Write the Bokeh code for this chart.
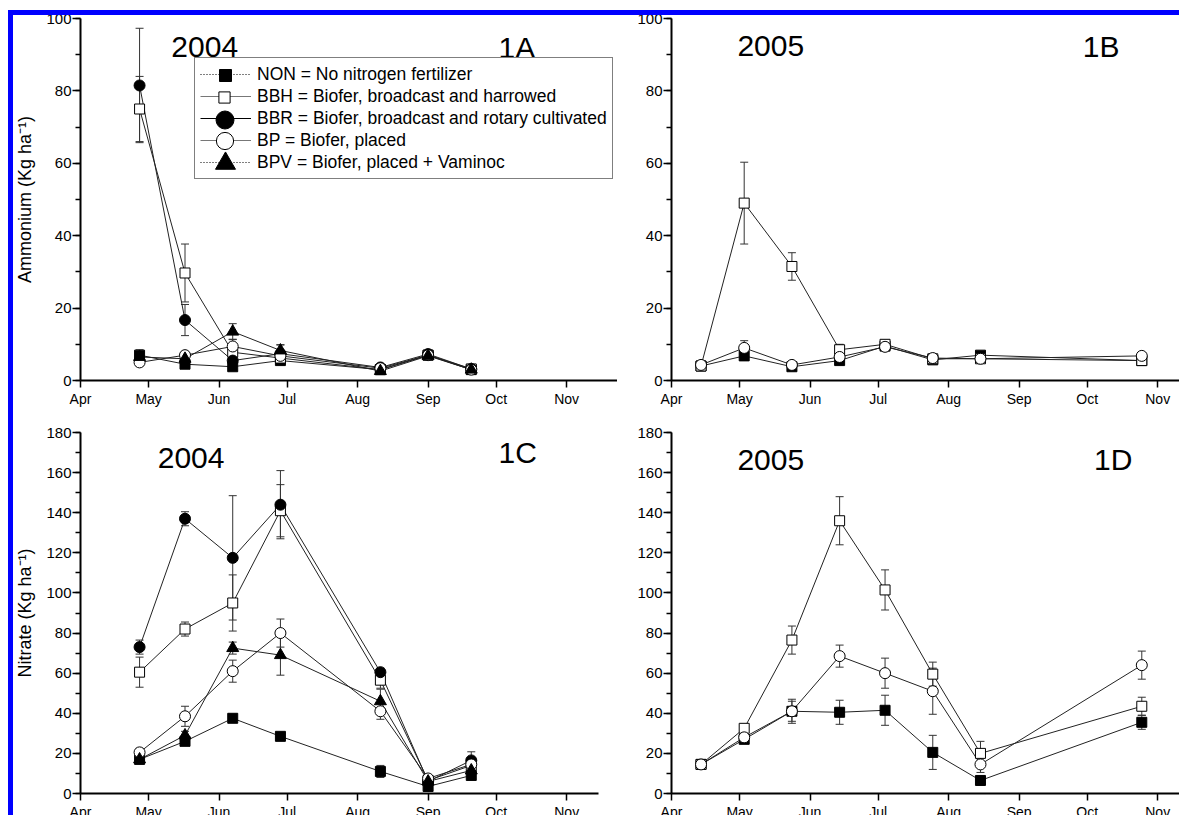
import pandas as pd
from datetime import datetime
from bokeh.plotting import figure
from bokeh.models import (Range1d, ColumnDataSource, Whisker, TeeHead, Legend, LegendItem,
                          Label, MonthsTicker, DatetimeTickFormatter, SingleIntervalTicker,
                          Span, GlobalInlineStyleSheet)
from bokeh.layouts import row, column
from bokeh.embed import file_html
from bokeh.resources import INLINE

FONT = "Liberation Sans"

# ---------------- data ----------------
dates_2004 = ["2004-04-27", "2004-05-17", "2004-06-07", "2004-06-28",
              "2004-08-11", "2004-09-01", "2004-09-20"]
dates_2005 = ["2005-04-14", "2005-05-03", "2005-05-24", "2005-06-14",
              "2005-07-04", "2005-07-25", "2005-08-15", "2005-10-25"]

legend_labels = {
    "NON": "NON = No nitrogen fertilizer",
    "BBH": "BBH = Biofer, broadcast and harrowed",
    "BBR": "BBR = Biofer, broadcast and rotary cultivated",
    "BP": "BP = Biofer, placed",
    "BPV": "BPV = Biofer, placed + Vaminoc",
}

# 1A  Ammonium 2004
ammonium_2004 = {
    "NON": [7.0, 4.5, 3.8, 5.5, 3.0, 7.0, 3.0],
    "BBH": [75.0, 29.7, 7.8, 6.2, 3.0, 7.0, 3.2],
    "BBR": [81.5, 16.7, 5.5, 7.4, 3.6, 7.3, 3.2],
    "BP": [5.0, 7.0, 9.4, 6.8, 3.4, 7.0, 3.0],
    "BPV": [6.5, 6.0, 13.5, 8.3, 2.6, 6.8, 3.0],
}
ammonium_2004_err = {
    "NON": [1.5, 1.0, 1.0, 1.0, 0.5, 0.5, 0.5],
    "BBH": [9.0, 8.0, 1.5, 1.0, 0.5, 0.5, 0.5],
    "BBR": [15.8, 4.3, 1.5, 2.5, 0.5, 0.5, 0.5],
    "BP": [1.0, 1.0, 2.0, 1.0, 0.5, 0.5, 0.5],
    "BPV": [1.0, 1.0, 2.2, 1.5, 0.8, 0.5, 0.8],
}

# 1B  Ammonium 2005
ammonium_2005 = {
    "NON": [4.0, 6.8, 3.8, 5.5, 9.5, 5.7, 7.0, 5.5],
    "BBH": [4.0, 49.0, 31.5, 8.5, 10.0, 6.0, 6.0, 5.5],
    "BP": [4.3, 9.0, 4.3, 6.5, 9.3, 6.2, 6.0, 6.8],
}
ammonium_2005_err = {
    "NON": [0.5, 1.0, 0.5, 0.8, 1.0, 0.5, 0.8, 0.5],
    "BBH": [0.5, 11.3, 3.8, 1.5, 1.2, 0.8, 0.8, 0.5],
    "BP": [0.5, 2.0, 0.8, 1.0, 1.0, 0.8, 0.8, 0.8],
}

# 1C  Nitrate 2004
nitrate_2004 = {
    "NON": [17.0, 26.0, 37.5, 28.5, 11.0, 3.5, 9.0],
    "BBH": [60.5, 82.0, 95.0, 141.0, 56.5, 6.5, 14.0],
    "BBR": [73.0, 137.0, 117.5, 144.0, 60.5, 6.0, 16.5],
    "BP": [20.5, 38.5, 61.0, 80.0, 41.0, 7.5, 14.5],
    "BPV": [17.0, 29.0, 72.5, 69.0, 46.0, 6.0, 11.5],
}
nitrate_2004_err = {
    "NON": [2.0, 2.0, 2.0, 1.5, 3.0, 1.0, 2.0],
    "BBH": [7.5, 3.5, 14.0, 13.0, 4.0, 1.5, 3.0],
    "BBR": [3.5, 3.5, 31.0, 17.0, 2.0, 1.5, 4.3],
    "BP": [2.0, 5.0, 5.5, 7.0, 4.0, 1.5, 3.0],
    "BPV": [2.0, 2.0, 3.0, 10.0, 6.0, 1.5, 2.0],
}

# 1D  Nitrate 2005
nitrate_2005 = {
    "NON": [14.5, 27.0, 41.0, 40.5, 41.5, 20.5, 6.5, 35.5],
    "BBH": [14.5, 32.5, 76.5, 136.0, 101.5, 59.5, 20.0, 43.5],
    "BP": [14.5, 28.0, 41.0, 68.5, 60.0, 51.0, 14.5, 64.0],
}
nitrate_2005_err = {
    "NON": [1.0, 2.0, 5.0, 6.0, 7.5, 8.5, 1.5, 3.5],
    "BBH": [1.0, 2.0, 7.0, 12.0, 10.0, 6.0, 6.0, 4.5],
    "BP": [1.0, 2.0, 6.0, 5.5, 7.5, 11.5, 4.0, 7.0],
}

# ---------------- styles ----------------
# gsize: size of the legend glyph box (legend marker = 0.4 * gsize)
STY = {
    "NON": dict(marker="square", fill="black", size=10, ldash="1 2", lcolor="black", gsize=30),
    "BBH": dict(marker="square", fill="white", size=10, ldash="solid", lcolor="#777777", gsize=28),
    "BBR": dict(marker="circle", fill="black", size=11, ldash="solid", lcolor="black", gsize=45),
    "BP": dict(marker="circle", fill="white", size=11, ldash="solid", lcolor="#777777", gsize=43),
    "BPV": dict(marker="triangle", fill="black", size=12, ldash="1 2", lcolor="black", gsize=50),
}


def ms(d):
    return pd.Timestamp(d).timestamp() * 1000.0


def make_panel(dates, vals, errs, yend, xs, xe, w, h, bl, br, bt, bb, ylabel):
    p = figure(x_axis_type="datetime",
               x_range=Range1d(start=xs, end=xe), y_range=Range1d(0, yend),
               width=w, height=h,
               min_border_left=bl, min_border_right=br,
               min_border_top=bt, min_border_bottom=bb,
               output_backend="svg", toolbar_location=None)
    p.outline_line_color = None
    p.grid.visible = False
    p.background_fill_color = "white"
    p.border_fill_color = "white"

    p.xaxis.ticker = MonthsTicker(months=list(range(12)))
    p.xaxis.formatter = DatetimeTickFormatter(months="%b", days="%b")
    p.yaxis.ticker = SingleIntervalTicker(interval=20, num_minor_ticks=2)
    for ax in (p.xaxis[0], p.yaxis[0]):
        ax.axis_line_width = 2
        ax.axis_line_color = "black"
        ax.major_tick_line_width = 1.5
        ax.minor_tick_line_width = 1.5
        ax.major_tick_in = 0
        ax.minor_tick_in = 0
        ax.major_label_text_font = FONT
        ax.major_label_text_color = "black"
    p.xaxis.major_label_text_font_size = "14px"
    p.yaxis.major_label_text_font_size = "15px"
    p.xaxis.major_label_standoff = 3
    p.yaxis.major_label_standoff = 1
    p.yaxis.major_tick_out = 8
    p.yaxis.minor_tick_out = 5
    p.xaxis.major_tick_out = 7
    p.xaxis.minor_tick_line_color = None
    if ylabel:
        p.yaxis.axis_label = ylabel
        p.yaxis.axis_label_text_font = FONT
        p.yaxis.axis_label_text_font_size = "18px"
        p.yaxis.axis_label_text_font_style = "normal"
        p.yaxis.axis_label_text_color = "black"
        p.yaxis.axis_label_standoff = 8

    p.add_layout(Span(location=0, dimension="width", line_color="black",
                      line_dash="1 1", line_width=1))

    x = pd.to_datetime(dates)
    srcs = {}
    for k, v in vals.items():
        e = errs[k]
        srcs[k] = ColumnDataSource(dict(x=x, y=v,
                                        upper=[a + b for a, b in zip(v, e)],
                                        lower=[a - b for a, b in zip(v, e)]))
        p.add_layout(Whisker(source=srcs[k], base="x", upper="upper", lower="lower",
                             dimension="height", line_color="#333333", line_width=1,
                             upper_head=TeeHead(size=8, line_color="#333333", line_width=1),
                             lower_head=TeeHead(size=8, line_color="#333333", line_width=1)))
    for k in vals:
        p.line("x", "y", source=srcs[k], line_color="#222222", line_width=1)
    for k in vals:
        s = STY[k]
        p.scatter("x", "y", source=srcs[k], marker=s["marker"], size=s["size"],
                  fill_color=s["fill"], line_color="black", line_width=1)
    return p


def add_text(p, txt, d, y):
    p.add_layout(Label(x=ms(d), y=y, text=txt, text_font=FONT, text_font_size="30px",
                       text_color="black", text_baseline="alphabetic"))


# page margin is set to 0 below; frame of 1A/1C starts at x=80, 1A top at y=18
fA = make_panel(dates_2004, ammonium_2004, ammonium_2004_err, 100,
                datetime(2004, 4, 1), datetime(2004, 11, 23, 9), 617, 410, 80, 0, 18, 30,
                "Ammonium (Kg ha\u207b\u00b9)")
fB = make_panel(dates_2005, ammonium_2005, ammonium_2005_err, 100,
                datetime(2005, 4, 1), datetime(2005, 11, 15), 572, 410, 54, 0, 18, 30, None)
fC = make_panel(dates_2004, nitrate_2004, nitrate_2004_err, 180,
                datetime(2004, 4, 1), datetime(2004, 11, 15), 617, 413, 80, 19, 22, 30,
                "Nitrate (Kg ha\u207b\u00b9)")
fD = make_panel(dates_2005, nitrate_2005, nitrate_2005_err, 180,
                datetime(2005, 4, 1), datetime(2005, 11, 15), 572, 413, 54, 0, 22, 30, None)

add_text(fA, "2004", "2004-05-11", 92)
add_text(fA, "1A", "2004-10-02", 92)
add_text(fB, "2005", "2005-04-30", 92.3)
add_text(fB, "1B", "2005-09-29", 92.3)
add_text(fC, "2004", "2004-05-05", 167.5)
add_text(fC, "1C", "2004-10-02", 170)
add_text(fD, "2005", "2005-04-30", 166.5)
add_text(fD, "1D", "2005-10-04", 166.5)

# legend: box, lines and labels; then one glyph-only legend per row for the large markers
order = ["NON", "BBH", "BBR", "BP", "BPV"]
items = []
markers = {}
for k in order:
    s = STY[k]
    dummy = ColumnDataSource(dict(x=[float("nan")], y=[float("nan")]))
    lr = fA.line("x", "y", source=dummy, line_color=s["lcolor"], line_width=1,
                 line_dash=s["ldash"])
    markers[k] = fA.scatter("x", "y", source=dummy, marker=s["marker"], size=s["size"],
                            fill_color=s["fill"], line_color="black", line_width=1)
    items.append(LegendItem(label=legend_labels[k], renderers=[lr]))
legend = Legend(items=items, location=(114, 201),
                label_text_font=FONT, label_text_font_size="17.5px",
                label_text_color="black",
                glyph_width=51, glyph_height=22, label_height=22, label_standoff=6,
                spacing=0, padding=5, margin=0,
                border_line_color="black", border_line_width=1,
                background_fill_color="white", background_fill_alpha=1)
fA.add_layout(legend, "center")

row_center = 201 + 5 + 22 * 5 - 11   # centre of first row, px above frame bottom
glyph_cx = 114 + 5 + 51 / 2          # centre of glyph column, px right of frame left
for i, k in enumerate(order):
    g = STY[k]["gsize"]
    cy = row_center - 22 * i
    mk = Legend(items=[LegendItem(label=" ", renderers=[markers[k]])],
                location=(int(round(glyph_cx - g / 2)), int(round(cy - g / 2))),
                glyph_width=g, glyph_height=g, label_height=g, label_standoff=0,
                label_text_font_size="1px", padding=0, margin=0, spacing=0,
                border_line_color=None, background_fill_alpha=0)
    fA.add_layout(mk, "center")

# page: no margin, no scrollbars, and the blue scan frame along the top and left edges
page_css = GlobalInlineStyleSheet(css="""
html { overflow: hidden !important; }
body { margin: 0 !important; }
body::before { content: ""; position: fixed; left: 8px; top: 10px; width: 5px;
               bottom: 0; background: #0000ff; z-index: 1000; }
body::after { content: ""; position: fixed; left: 8px; top: 10px; right: 0;
              height: 5px; background: #0000ff; z-index: 1000; }
""")

layout = column(row(fA, fB), row(fC, fD), stylesheets=[page_css])

open("out.html", "w").write(file_html(layout, INLINE))
